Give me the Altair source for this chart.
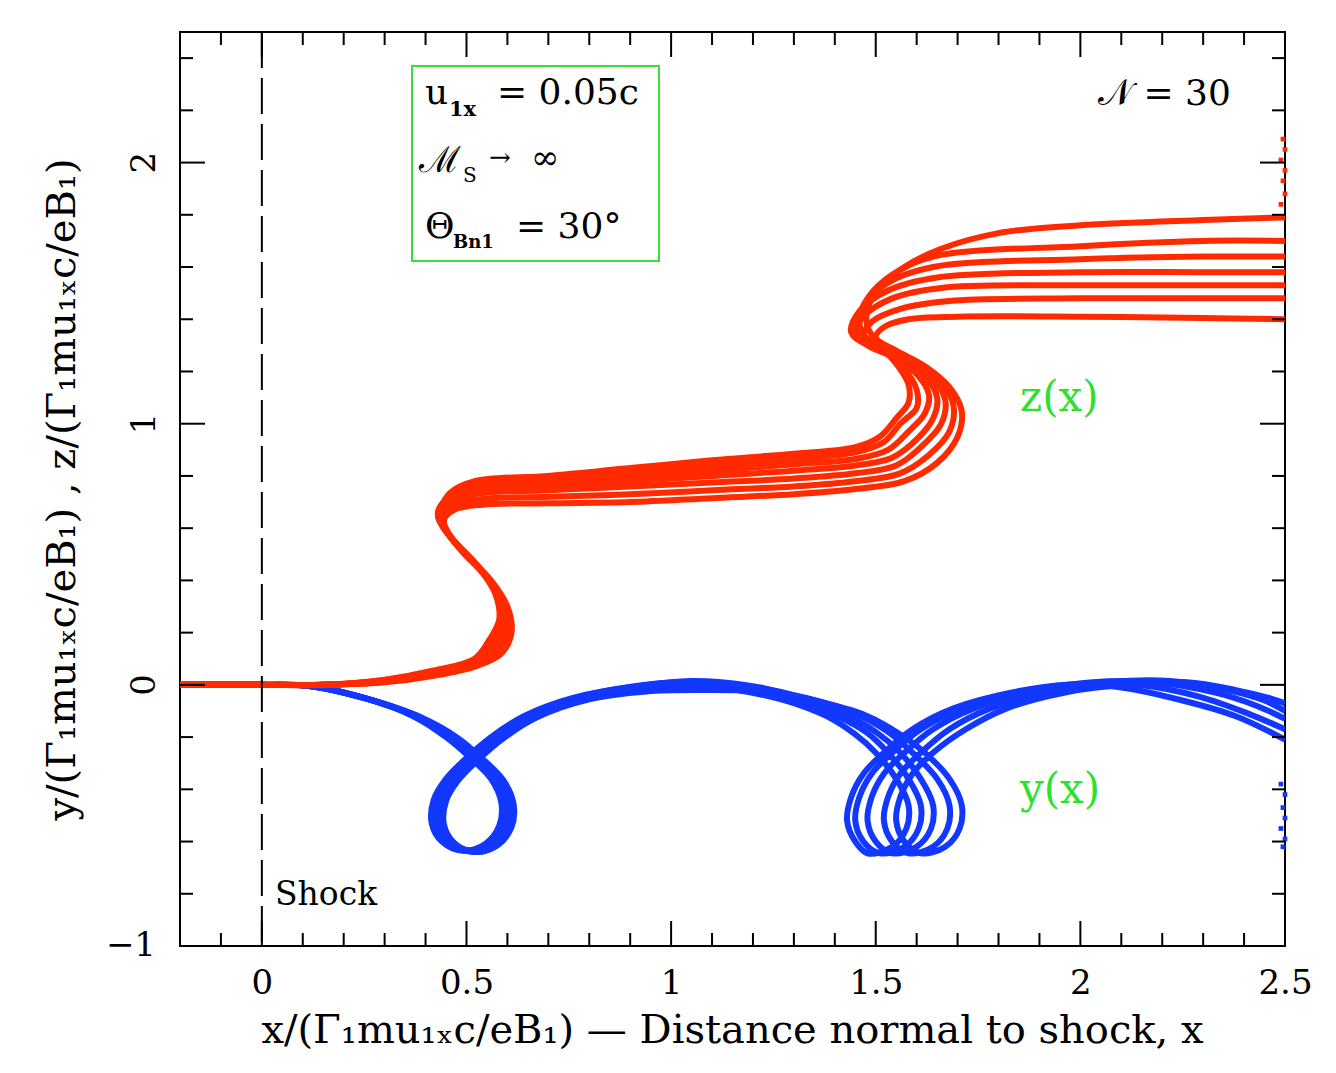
import altair as alt
import pandas as pd

# ---------------- data: z(x) trajectories (red) ----------------
zt1_x = [-0.2, 0.0, 0.15, 0.30, 0.42, 0.52, 0.585, 0.61, 0.60, 0.56, 0.50, 0.46, 0.445, 0.47, 0.54, 0.70, 0.90, 1.10, 1.30, 1.45, 1.57, 1.65, 1.70, 1.71, 1.68, 1.62, 1.55, 1.50, 1.52, 1.58, 1.70, 2.00, 2.30, 2.50]
zt1_y = [0.0, 0.0, 0.0, 0.010, 0.035, 0.07, 0.12, 0.20, 0.30, 0.40, 0.50, 0.57, 0.63, 0.67, 0.69, 0.695, 0.70, 0.715, 0.73, 0.75, 0.78, 0.85, 0.95, 1.05, 1.14, 1.22, 1.28, 1.33, 1.37, 1.40, 1.41, 1.41, 1.405, 1.40]
zt2_x = [-0.2, 0.0, 0.15, 0.30, 0.42, 0.52, 0.58, 0.605, 0.595, 0.55, 0.49, 0.455, 0.44, 0.46, 0.53, 0.70, 0.90, 1.10, 1.30, 1.45, 1.56, 1.63, 1.68, 1.69, 1.66, 1.60, 1.52, 1.47, 1.49, 1.56, 1.68, 2.00, 2.30, 2.50]
zt2_y = [0.0, 0.0, 0.0, 0.012, 0.04, 0.075, 0.12, 0.20, 0.30, 0.41, 0.51, 0.58, 0.635, 0.68, 0.71, 0.72, 0.73, 0.745, 0.76, 0.78, 0.81, 0.88, 0.97, 1.07, 1.16, 1.23, 1.29, 1.33, 1.39, 1.44, 1.47, 1.48, 1.48, 1.48]
zt3_x = [-0.2, 0.0, 0.15, 0.30, 0.42, 0.52, 0.575, 0.60, 0.59, 0.545, 0.485, 0.45, 0.435, 0.455, 0.52, 0.70, 0.90, 1.10, 1.30, 1.45, 1.55, 1.61, 1.66, 1.67, 1.64, 1.57, 1.50, 1.45, 1.47, 1.54, 1.66, 2.00, 2.30, 2.50]
zt3_y = [0.0, 0.0, 0.0, 0.012, 0.04, 0.08, 0.13, 0.21, 0.31, 0.42, 0.52, 0.59, 0.64, 0.69, 0.73, 0.745, 0.76, 0.775, 0.79, 0.81, 0.84, 0.91, 1.00, 1.09, 1.17, 1.24, 1.29, 1.34, 1.41, 1.48, 1.52, 1.53, 1.53, 1.53]
zt4_x = [-0.2, 0.0, 0.15, 0.30, 0.42, 0.52, 0.57, 0.595, 0.585, 0.54, 0.48, 0.445, 0.43, 0.45, 0.51, 0.70, 0.90, 1.10, 1.30, 1.45, 1.54, 1.60, 1.64, 1.65, 1.62, 1.55, 1.48, 1.44, 1.46, 1.53, 1.65, 2.00, 2.30, 2.50]
zt4_y = [0.0, 0.0, 0.0, 0.015, 0.045, 0.085, 0.14, 0.22, 0.32, 0.43, 0.53, 0.60, 0.65, 0.70, 0.745, 0.765, 0.78, 0.80, 0.82, 0.84, 0.87, 0.94, 1.02, 1.10, 1.18, 1.25, 1.30, 1.35, 1.43, 1.51, 1.56, 1.58, 1.58, 1.58]
zt5_x = [-0.2, 0.0, 0.15, 0.30, 0.42, 0.52, 0.565, 0.59, 0.58, 0.535, 0.475, 0.44, 0.43, 0.45, 0.50, 0.70, 0.90, 1.10, 1.30, 1.45, 1.53, 1.58, 1.62, 1.63, 1.60, 1.54, 1.48, 1.45, 1.47, 1.53, 1.64, 2.00, 2.30, 2.50]
zt5_y = [0.0, 0.0, 0.0, 0.015, 0.045, 0.09, 0.15, 0.23, 0.33, 0.44, 0.54, 0.61, 0.66, 0.71, 0.755, 0.78, 0.80, 0.82, 0.845, 0.865, 0.90, 0.97, 1.04, 1.11, 1.19, 1.26, 1.32, 1.37, 1.45, 1.54, 1.60, 1.63, 1.64, 1.64]
zt6_x = [-0.2, 0.0, 0.15, 0.30, 0.42, 0.52, 0.56, 0.585, 0.575, 0.53, 0.47, 0.44, 0.435, 0.455, 0.51, 0.70, 0.90, 1.10, 1.30, 1.45, 1.52, 1.56, 1.60, 1.60, 1.57, 1.52, 1.47, 1.46, 1.48, 1.54, 1.64, 2.00, 2.30, 2.50]
zt6_y = [0.0, 0.0, 0.0, 0.018, 0.05, 0.095, 0.16, 0.24, 0.34, 0.45, 0.55, 0.62, 0.67, 0.72, 0.765, 0.79, 0.815, 0.84, 0.865, 0.89, 0.93, 1.00, 1.06, 1.13, 1.21, 1.28, 1.34, 1.40, 1.48, 1.57, 1.64, 1.68, 1.70, 1.70]
zt7_x = [-0.2, 0.0, 0.15, 0.30, 0.42, 0.52, 0.555, 0.58, 0.57, 0.525, 0.465, 0.44, 0.44, 0.46, 0.52, 0.70, 0.90, 1.10, 1.30, 1.45, 1.51, 1.55, 1.58, 1.58, 1.55, 1.51, 1.48, 1.48, 1.51, 1.57, 1.66, 1.80, 2.00, 2.30, 2.50]
zt7_y = [0.0, 0.0, 0.0, 0.02, 0.055, 0.10, 0.17, 0.25, 0.35, 0.46, 0.56, 0.63, 0.68, 0.735, 0.78, 0.80, 0.83, 0.86, 0.885, 0.91, 0.95, 1.02, 1.08, 1.15, 1.23, 1.30, 1.37, 1.44, 1.52, 1.60, 1.67, 1.73, 1.76, 1.78, 1.79]

# ---------------- data: y(x) trajectories (blue) ----------------
yt1_x = [-0.2, 0.0, 0.12, 0.25, 0.37, 0.45, 0.51, 0.56, 0.585, 0.58, 0.545, 0.49, 0.44, 0.415, 0.42, 0.45, 0.50, 0.56, 0.64, 0.76, 0.90, 1.03, 1.16, 1.28, 1.38, 1.45, 1.50, 1.55, 1.58, 1.575, 1.54, 1.48, 1.45, 1.43, 1.44, 1.47, 1.52, 1.59, 1.69, 1.83, 1.97, 2.10, 2.25, 2.38, 2.50]
yt1_y = [0.0, 0.0, -0.005, -0.05, -0.12, -0.20, -0.28, -0.36, -0.45, -0.54, -0.61, -0.635, -0.60, -0.53, -0.44, -0.36, -0.28, -0.20, -0.12, -0.05, -0.01, 0.0, -0.02, -0.06, -0.12, -0.19, -0.26, -0.36, -0.46, -0.55, -0.62, -0.645, -0.60, -0.52, -0.43, -0.34, -0.26, -0.17, -0.09, -0.03, 0.0, -0.01, -0.06, -0.12, -0.21]
yt2_x = [-0.2, 0.0, 0.12, 0.25, 0.375, 0.46, 0.52, 0.57, 0.595, 0.59, 0.555, 0.50, 0.45, 0.425, 0.43, 0.46, 0.51, 0.57, 0.65, 0.77, 0.91, 1.04, 1.17, 1.30, 1.40, 1.48, 1.53, 1.58, 1.61, 1.605, 1.57, 1.51, 1.47, 1.45, 1.46, 1.49, 1.54, 1.61, 1.71, 1.85, 2.00, 2.14, 2.29, 2.41, 2.50]
yt2_y = [0.0, 0.0, -0.005, -0.05, -0.12, -0.20, -0.28, -0.36, -0.45, -0.54, -0.61, -0.635, -0.60, -0.53, -0.44, -0.36, -0.28, -0.20, -0.12, -0.05, -0.005, 0.01, -0.01, -0.055, -0.115, -0.185, -0.26, -0.36, -0.46, -0.55, -0.62, -0.645, -0.60, -0.52, -0.43, -0.34, -0.26, -0.17, -0.09, -0.03, 0.005, 0.0, -0.045, -0.11, -0.17]
yt3_x = [-0.2, 0.0, 0.12, 0.25, 0.38, 0.47, 0.53, 0.58, 0.605, 0.60, 0.565, 0.51, 0.46, 0.435, 0.44, 0.47, 0.52, 0.58, 0.66, 0.78, 0.92, 1.05, 1.18, 1.31, 1.42, 1.50, 1.56, 1.61, 1.64, 1.635, 1.60, 1.54, 1.50, 1.48, 1.49, 1.52, 1.57, 1.64, 1.74, 1.88, 2.03, 2.18, 2.33, 2.43, 2.50]
yt3_y = [0.0, 0.0, -0.005, -0.05, -0.12, -0.20, -0.28, -0.36, -0.45, -0.54, -0.61, -0.635, -0.60, -0.53, -0.44, -0.36, -0.28, -0.20, -0.12, -0.05, -0.005, 0.015, 0.0, -0.045, -0.11, -0.18, -0.26, -0.36, -0.46, -0.55, -0.62, -0.645, -0.60, -0.52, -0.43, -0.34, -0.26, -0.17, -0.09, -0.03, 0.01, 0.01, -0.03, -0.08, -0.13]
yt4_x = [-0.2, 0.0, 0.12, 0.26, 0.385, 0.475, 0.535, 0.585, 0.61, 0.605, 0.57, 0.515, 0.465, 0.44, 0.445, 0.475, 0.525, 0.585, 0.67, 0.79, 0.93, 1.06, 1.19, 1.33, 1.45, 1.53, 1.59, 1.65, 1.68, 1.675, 1.64, 1.58, 1.54, 1.52, 1.53, 1.56, 1.61, 1.68, 1.78, 1.92, 2.07, 2.22, 2.36, 2.45, 2.50]
yt4_y = [0.0, 0.0, -0.005, -0.055, -0.125, -0.205, -0.285, -0.365, -0.455, -0.545, -0.615, -0.64, -0.605, -0.535, -0.445, -0.365, -0.285, -0.205, -0.125, -0.055, -0.015, 0.0, -0.01, -0.05, -0.11, -0.18, -0.26, -0.36, -0.46, -0.55, -0.62, -0.645, -0.60, -0.52, -0.43, -0.34, -0.26, -0.17, -0.09, -0.03, 0.01, 0.015, -0.02, -0.06, -0.10]
yt5_x = [-0.2, 0.0, 0.12, 0.26, 0.39, 0.48, 0.54, 0.59, 0.615, 0.61, 0.575, 0.52, 0.47, 0.445, 0.45, 0.48, 0.53, 0.59, 0.67, 0.80, 0.94, 1.07, 1.21, 1.35, 1.48, 1.56, 1.62, 1.68, 1.71, 1.705, 1.67, 1.61, 1.57, 1.55, 1.56, 1.59, 1.64, 1.72, 1.82, 1.96, 2.11, 2.26, 2.38, 2.46, 2.50]
yt5_y = [0.0, 0.0, -0.005, -0.055, -0.125, -0.205, -0.285, -0.365, -0.455, -0.545, -0.615, -0.64, -0.605, -0.535, -0.445, -0.365, -0.285, -0.205, -0.125, -0.055, -0.025, -0.02, -0.025, -0.06, -0.12, -0.19, -0.26, -0.36, -0.46, -0.55, -0.62, -0.645, -0.60, -0.52, -0.43, -0.34, -0.26, -0.17, -0.09, -0.03, 0.0, 0.01, -0.02, -0.05, -0.07]

# particles leaving through the right boundary
edge_red_x = [2.49, 2.50, 2.495, 2.50, 2.49, 2.50, 2.495]
edge_red_y = [1.84, 1.88, 1.93, 1.97, 2.01, 2.05, 2.09]
edge_blue_x = [2.49, 2.50, 2.495, 2.50, 2.49, 2.50, 2.495]
edge_blue_y = [-0.38, -0.42, -0.47, -0.51, -0.55, -0.59, -0.62]

# shock position
shock_x = [0.0]

# ticks and labels
x_major = [0, 0.5, 1, 1.5, 2, 2.5]
x_minor = [-0.1, 0.1, 0.2, 0.3, 0.4, 0.6, 0.7, 0.8, 0.9, 1.1, 1.2, 1.3, 1.4,
           1.6, 1.7, 1.8, 1.9, 2.1, 2.2, 2.3, 2.4]
y_major = [-1, 0, 1, 2]
y_minor = [-0.8, -0.6, -0.4, -0.2, 0.2, 0.4, 0.6, 0.8, 1.2, 1.4, 1.6, 1.8, 2.2, 2.4]
y_label_vals_rot = [0, 1, 2]
y_label_text_rot = ["0", "1", "2"]
y_label_vals_flat = [-1]
y_label_text_flat = ["\u22121"]

x_title = "x/(\u0393\u2081mu\u2081\u2093c/eB\u2081)  \u2014  Distance normal to shock, x"
y_title = "y/(\u0393\u2081mu\u2081\u2093c/eB\u2081) ,  z/(\u0393\u2081mu\u2081\u2093c/eB\u2081)"

# ---------------- build tables ----------------
def build(pairs, fam):
    rows = []
    for k, (xs, ys) in enumerate(pairs):
        assert len(xs) == len(ys), (fam, k, len(xs), len(ys))
        for i, (a, b) in enumerate(zip(xs, ys)):
            rows.append({"x": a, "y": b, "traj": f"{fam}{k}", "ord": i})
    return pd.DataFrame(rows)

red_df = build([(zt1_x, zt1_y), (zt2_x, zt2_y), (zt3_x, zt3_y), (zt4_x, zt4_y),
                (zt5_x, zt5_y), (zt6_x, zt6_y), (zt7_x, zt7_y)], "z")
blue_df = build([(yt1_x, yt1_y), (yt2_x, yt2_y), (yt3_x, yt3_y), (yt4_x, yt4_y),
                 (yt5_x, yt5_y)], "y")
edge_red = pd.DataFrame({"x": edge_red_x, "y": edge_red_y})
edge_blue = pd.DataFrame({"x": edge_blue_x, "y": edge_blue_y})

W, H = 1105, 914
FONT = "DejaVu Serif"
RED = "#ff2a00"
BLUE = "#1238ff"
GREEN = "#2fe02f"
MAJ, MIN = 25, 13

XS = alt.Scale(domain=[-0.2, 2.5], nice=False, zero=False)
YS = alt.Scale(domain=[-1.0, 2.5], nice=False, zero=False)

X_AX = alt.Axis(values=x_major, format="~g", labelFont=FONT, labelFontSize=34,
                labelColor="black", labelPadding=20, labelFlush=False,
                labelOverlap=False, ticks=False, tickSize=0, domain=False,
                grid=False, title=x_title, titleFont=FONT, titleFontSize=40,
                titleFontWeight="normal", titleColor="black", titleX=552,
                titleY=84, titleBaseline="middle", titleAlign="center")
Y_AX = alt.Axis(labels=False, ticks=False, tickSize=0, domain=False, grid=False,
                title=y_title, titleFont=FONT, titleFontSize=40,
                titleFontWeight="normal", titleColor="black", titleX=-118,
                titleY=457, titleAngle=270, titleBaseline="middle",
                titleAlign="center")

def X(f="x"):
    return alt.X(f + ":Q", scale=XS, axis=X_AX)

def Y(f="y"):
    return alt.Y(f + ":Q", scale=YS, axis=Y_AX)

blue_lines = alt.Chart(blue_df).mark_line(
    color=BLUE, strokeWidth=6, interpolate="catmull-rom", clip=True
).encode(x=X(), y=Y(), detail="traj:N", order="ord:Q")

red_lines = alt.Chart(red_df).mark_line(
    color=RED, strokeWidth=6, interpolate="catmull-rom", clip=True
).encode(x=X(), y=Y(), detail="traj:N", order="ord:Q")

edge_b = alt.Chart(edge_blue).mark_square(color=BLUE, size=22, opacity=1).encode(x=X(), y=Y())
edge_r = alt.Chart(edge_red).mark_square(color=RED, size=22, opacity=1).encode(x=X(), y=Y())

shock = alt.Chart(pd.DataFrame({"x": shock_x})).mark_rule(
    color="black", strokeWidth=2, strokeDash=[36, 10]
).encode(x=X())

def xticks(vals, length):
    d = pd.DataFrame({"x": vals})
    b = alt.Chart(d).mark_rule(color="black", strokeWidth=2).encode(
        x=X(), y=alt.value(H), y2=alt.value(H - length))
    t = alt.Chart(d).mark_rule(color="black", strokeWidth=2).encode(
        x=X(), y=alt.value(0), y2=alt.value(length))
    return [b, t]

def yticks(vals, length):
    d = pd.DataFrame({"y": vals})
    l = alt.Chart(d).mark_rule(color="black", strokeWidth=2).encode(
        y=Y(), x=alt.value(0), x2=alt.value(length))
    r = alt.Chart(d).mark_rule(color="black", strokeWidth=2).encode(
        y=Y(), x=alt.value(W), x2=alt.value(W - length))
    return [l, r]

ticks = xticks(x_major, MAJ) + xticks(x_minor, MIN) + yticks(y_major, MAJ) + yticks(y_minor, MIN)

ylab_rot = alt.Chart(pd.DataFrame({"y": y_label_vals_rot, "t": y_label_text_rot})).mark_text(
    font=FONT, fontSize=34, color="black", angle=270, align="center", baseline="middle"
).encode(y=Y(), x=alt.value(-35), text="t:N")
ylab_flat = alt.Chart(pd.DataFrame({"y": y_label_vals_flat, "t": y_label_text_flat})).mark_text(
    font=FONT, fontSize=34, color="black", align="right", baseline="middle"
).encode(y=Y(), x=alt.value(-24), text="t:N")

one = pd.DataFrame({"k": [0]})

def txt(s, px, py, size, color="black", weight="normal", align="left",
        baseline="alphabetic", style="normal"):
    return alt.Chart(one).mark_text(
        text=s, font=FONT, fontSize=size, color=color, fontWeight=weight,
        align=align, baseline=baseline, fontStyle=style
    ).encode(x=alt.value(px), y=alt.value(py))

box = alt.Chart(one).mark_rect(
    fill="white", fillOpacity=0, stroke="#3ddc3d", strokeWidth=2
).encode(x=alt.value(232), x2=alt.value(479), y=alt.value(34), y2=alt.value(229))

annot = [
    box,
    txt("u", 245, 72, 36),
    txt("1x", 269, 84, 21, weight="bold"),
    txt("= 0.05c", 317, 72, 36),
    txt("\u2133", 239, 140, 36),
    txt("S", 283, 150, 20),
    txt("\u2192", 309, 126, 26, baseline="middle"),
    txt("\u221e", 351, 127, 34, baseline="middle"),
    txt("\u0398", 245, 206, 36),
    txt("Bn1", 273, 216, 18, weight="bold"),
    txt("= 30\u00b0", 336, 206, 36),
    txt("\U0001D4A9 = 30", 918, 73, 36),
    txt("z(x)", 840, 366, 42, color=GREEN, baseline="middle"),
    txt("y(x)", 840, 758, 42, color=GREEN, baseline="middle"),
    txt("Shock", 95, 873, 33),
]

chart = alt.layer(
    blue_lines, red_lines, edge_b, edge_r, shock, *ticks, ylab_rot, ylab_flat, *annot
).properties(
    width=W, height=H,
    autosize=alt.AutoSizeParams(type="none"),
    padding={"left": 172, "top": 24, "right": 43, "bottom": 119},
    background="white",
).configure_view(stroke="black", strokeWidth=2)

chart.save("out.html", embed_options={"renderer": "svg", "actions": False})
